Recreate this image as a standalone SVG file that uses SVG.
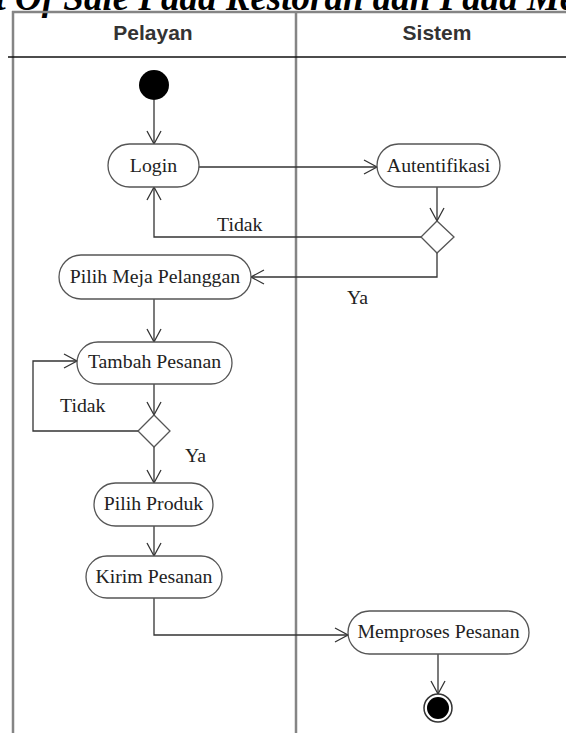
<svg xmlns="http://www.w3.org/2000/svg" width="566" height="733" viewBox="0 0 566 733">
  <defs>
    <marker id="arr" markerUnits="userSpaceOnUse" viewBox="-15 -9 17 18" refX="0" refY="0" markerWidth="17" markerHeight="18" orient="auto">
      <path d="M-13,-7 L0,0 L-13,7" fill="none" stroke="#333" stroke-width="1.3"/>
    </marker>
    <style>
      .lane { stroke: #858585; stroke-width: 2.5; fill: none; }
      .hdr { stroke: #111; stroke-width: 1.6; }
      .lanetitle { font-family: "Liberation Sans", Arial, sans-serif; font-weight: bold; font-size: 21px; fill: #333; text-anchor: middle; }
      .act rect { fill: #fff; stroke: #555; stroke-width: 1.3; }
      .act text, .lbl { font-family: "Liberation Serif", "Times New Roman", serif; font-size: 19.8px; fill: #222; }
      .act text { text-anchor: middle; }
      .dec polygon { fill: #fff; stroke: #555; stroke-width: 1.3; }
      .edge { fill: none; stroke: #333; stroke-width: 1.3; marker-end: url(#arr); }
      .title { font-family: "Liberation Serif", "Times New Roman", serif; font-weight: bold; font-style: italic; font-size: 37px; fill: #000; text-anchor: end; }
    </style>
  </defs>

  <rect x="0" y="0" width="566" height="733" fill="#fff"/>

  <text class="title" x="605" y="10">Point Of Sale Pada Restoran dan Pada Meja</text>

  <g id="swimlanes">
    <line class="lane" x1="12" y1="12" x2="566" y2="12"/>
    <line class="lane" x1="13" y1="11" x2="13" y2="733"/>
    <line class="lane" x1="296" y1="11" x2="296" y2="733"/>
    <line class="hdr" x1="8" y1="57" x2="566" y2="57"/>
    <text class="lanetitle" x="153" y="40">Pelayan</text>
    <text class="lanetitle" x="437" y="40">Sistem</text>
  </g>

  <g id="connectors">
    <path class="edge" d="M154,100 L154,144"/>
    <path class="edge" d="M199,167 L377,167"/>
    <path class="edge" d="M437,187 L437,221"/>
    <path class="edge" d="M421,237 L154,237 L154,187"/>
    <path class="edge" d="M437,253 L437,277 L251,277"/>
    <path class="edge" d="M154,299 L154,342"/>
    <path class="edge" d="M154,384 L154,415"/>
    <path class="edge" d="M138,431 L33,431 L33,361 L77,361"/>
    <path class="edge" d="M154,447 L154,483"/>
    <path class="edge" d="M154,526 L154,556"/>
    <path class="edge" d="M154,598 L154,635 L348,635"/>
    <path class="edge" d="M438,654 L438,694"/>
    <text class="lbl" x="217" y="231">Tidak</text>
    <text class="lbl" x="347" y="304">Ya</text>
    <text class="lbl" x="60" y="412">Tidak</text>
    <text class="lbl" x="185" y="462">Ya</text>
  </g>

  <g id="start">
    <circle cx="154" cy="85" r="15" fill="#000"/>
  </g>

  <g id="login" class="act">
    <rect x="108" y="144" width="91" height="43" rx="21.5"/>
    <text x="153.5" y="172">Login</text>
  </g>

  <g id="autentifikasi" class="act">
    <rect x="377" y="144" width="123" height="43" rx="21.5"/>
    <text x="438.5" y="172">Autentifikasi</text>
  </g>

  <g id="decision1" class="dec">
    <polygon points="437,221 454,237 437,253 421,237"/>
  </g>

  <g id="pilih-meja" class="act">
    <rect x="59" y="255" width="192" height="44" rx="22"/>
    <text x="155" y="283">Pilih Meja Pelanggan</text>
  </g>

  <g id="tambah-pesanan" class="act">
    <rect x="77" y="342" width="155" height="42" rx="21"/>
    <text x="154.5" y="368">Tambah Pesanan</text>
  </g>

  <g id="decision2" class="dec">
    <polygon points="154,415 170,431 154,447 138,431"/>
  </g>

  <g id="pilih-produk" class="act">
    <rect x="94" y="483" width="119" height="43" rx="21.5"/>
    <text x="153.5" y="510">Pilih Produk</text>
  </g>

  <g id="kirim-pesanan" class="act">
    <rect x="86" y="556" width="136" height="42" rx="21"/>
    <text x="154" y="583">Kirim Pesanan</text>
  </g>

  <g id="memproses-pesanan" class="act">
    <rect x="348" y="611" width="181" height="43" rx="21.5"/>
    <text x="438.5" y="638">Memproses Pesanan</text>
  </g>

  <g id="end">
    <circle cx="438" cy="708" r="14" fill="#fff" stroke="#333" stroke-width="1.5"/>
    <circle cx="438" cy="708" r="11" fill="#000"/>
  </g>
</svg>
